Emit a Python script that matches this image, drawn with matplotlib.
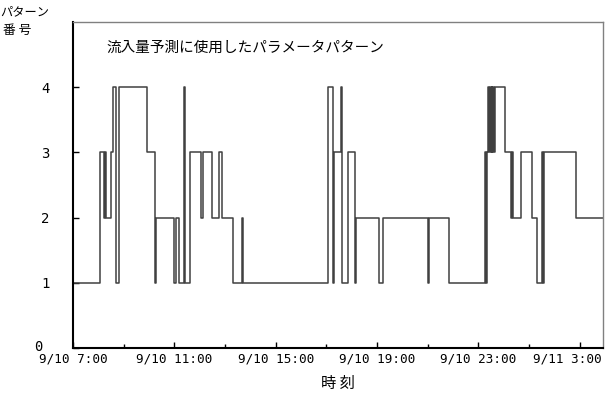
import matplotlib
matplotlib.use("Agg")
import matplotlib.pyplot as plt
import matplotlib.transforms as mtransforms
import pandas as pd

plt.rcParams['font.family'] = ['Noto Sans CJK JP', 'DejaVu Sans']

# Times at which the selected parameter pattern changes, and the pattern used from then on
change_times = [
    "09-10 07:00", "09-10 08:05", "09-10 08:14", "09-10 08:16", "09-10 08:18",
    "09-10 08:29", "09-10 08:35", "09-10 08:43", "09-10 08:48", "09-10 09:56",
    "09-10 10:14", "09-10 10:16", "09-10 10:58", "09-10 11:04", "09-10 11:12",
    "09-10 11:23", "09-10 11:26", "09-10 11:37", "09-10 12:02", "09-10 12:07",
    "09-10 12:30", "09-10 12:46", "09-10 12:52", "09-10 13:19", "09-10 13:40",
    "09-10 13:43", "09-10 17:03", "09-10 17:15", "09-10 17:19", "09-10 17:34",
    "09-10 17:37", "09-10 17:50", "09-10 18:08", "09-10 18:11", "09-10 19:05",
    "09-10 19:14", "09-10 21:00", "09-10 21:03", "09-10 21:50", "09-10 23:16",
    "09-10 23:18", "09-10 23:20", "09-10 23:23", "09-10 23:25", "09-10 23:27",
    "09-10 23:29", "09-10 23:31", "09-10 23:33", "09-10 23:35", "09-10 23:37",
    "09-10 23:39", "09-11 00:02", "09-11 00:18", "09-11 00:20", "09-11 00:22",
    "09-11 00:42", "09-11 01:06", "09-11 01:18", "09-11 01:31", "09-11 01:33",
    "09-11 01:35", "09-11 02:52", "09-11 03:55",
]
pattern_no = [
    1, 3, 2, 3, 2,
    3, 4, 1, 4, 3,
    1, 2, 1, 2, 1,
    4, 1, 3, 2, 3,
    2, 3, 2, 1, 2,
    1, 4, 1, 3, 4,
    1, 3, 1, 2, 1,
    2, 1, 2, 1, 3,
    1, 3, 4, 3, 4,
    3, 4, 3, 4, 3,
    4, 3, 2, 3, 2,
    3, 2, 1, 3, 1,
    3, 2, 2,
]

x_start = "09-10 07:00"
x_end = "09-11 03:55"
y_ticks = [0, 1, 2, 3, 4]
title_text = "流入量予測に使用したパラメータパターン"
x_label = "時 刻"
y_label_top = "パターン"
y_label_bottom = "番 号"


def to_time(s):
    return pd.Timestamp("2004-" + s)


times = [to_time(s) for s in change_times]

fig = plt.figure(figsize=(6.05, 3.99), dpi=100)
ax = fig.add_axes([73 / 605, 1 - 348 / 399, 530 / 605, 326 / 399])

ax.plot(times, pattern_no, drawstyle="steps-post", color="#404040", lw=1.1)

ax.set_xlim(to_time(x_start), to_time(x_end))
ax.set_ylim(0, 5)

mono = "DejaVu Sans Mono"
ax.set_yticks(y_ticks)
ax.set_yticklabels([str(v) for v in y_ticks], fontsize=10, family=mono)

major_ticks = pd.date_range(to_time(x_start), to_time(x_end), freq="4h")
minor_ticks = pd.date_range(to_time(x_start), to_time(x_end), freq="2h")
ax.set_xticks(major_ticks)
ax.set_xticks(minor_ticks, minor=True)
ax.set_xticklabels([f"{t.month}/{t.day} {t.hour}:{t.minute:02d}" for t in major_ticks],
                   fontsize=9.1, family=mono)

ax.tick_params(axis="x", which="major", direction="in", length=4, width=1, pad=3)
ax.tick_params(axis="x", which="minor", direction="in", length=3, width=1)
ax.tick_params(axis="y", which="major", direction="in", length=4, width=1, pad=17)
ax.tick_params(axis="y", which="minor", left=False)

# keep the last time label inside the figure and set the zero label apart
last = ax.get_xticklabels()[-1]
last.set_transform(last.get_transform() + mtransforms.ScaledTranslation(-0.12, 0, fig.dpi_scale_trans))
zero = ax.get_yticklabels()[0]
zero.set_transform(zero.get_transform() + mtransforms.ScaledTranslation(-0.07, 0.025, fig.dpi_scale_trans))

for side in ("left", "bottom"):
    ax.spines[side].set_color("black")
    ax.spines[side].set_linewidth(1.5)
for side in ("top", "right"):
    ax.spines[side].set_color("#808080")
    ax.spines[side].set_linewidth(1.0)

ax.text(0.064, 0.92, title_text, transform=ax.transAxes, fontsize=10.5, ha="left", va="center")
ax.set_xlabel(x_label, fontsize=11, labelpad=7)
fig.text(0 / 605, 1 - 12 / 399, y_label_top, fontsize=8.8, ha="left", va="center")
fig.text(3 / 605, 1 - 30 / 399, y_label_bottom, fontsize=9.2, ha="left", va="center")

fig.savefig("out.png", dpi=100)
